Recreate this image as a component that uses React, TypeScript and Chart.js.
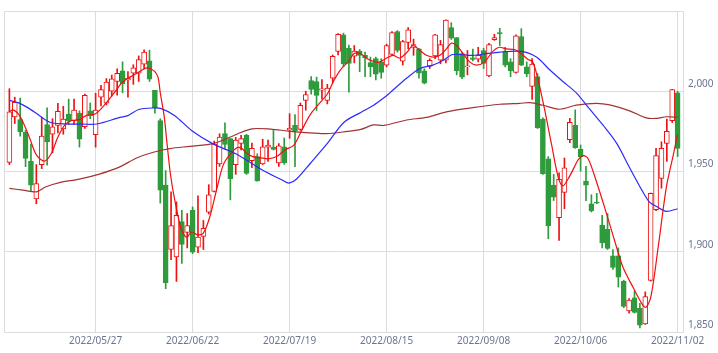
import { useEffect, useRef } from 'react';
import { Chart, registerables } from 'chart.js';
Chart.register(...registerables);

const tickIndex = [16, 34, 52, 70, 88, 106, 124];
const tickLabels = ['2022/05/27', '2022/06/22', '2022/07/19', '2022/08/15', '2022/09/08', '2022/10/06', '2022/11/02'];

const opens = [
  1955.7, 1984.0, 1982.3, 1974.4, 1956.3, 1932.9, 1954.3, 1979.3, 1973.2, 1978.7,
  1976.6, 1985.8, 1981.7, 1986.4, 1977.9, 1987.8, 1973.0, 1996.3, 1992.5, 2000.0,
  2006.1, 2012.8, 2007.1, 2011.2, 2011.3, 2016.9, 2018.9, 2000.6, 1981.7, 1941.5,
  1901.4, 1896.8, 1918.8, 1912.0, 1925.8, 1902.9, 1909.6, 1924.6, 1937.6, 1954.7,
  1973.6, 1970.5, 1954.3, 1967.5, 1972.6, 1956.7, 1959.3, 1954.7, 1965.1, 1965.1,
  1955.3, 1965.4, 1975.9, 1978.7, 1976.2, 1994.3, 2006.7, 2006.1, 2000.6, 1994.3,
  2008.1, 2024.8, 2035.2, 2026.8, 2021.8, 2025.0, 2022.4, 2017.9, 2020.3, 2018.3,
  2016.3, 2023.0, 2037.2, 2018.7, 2030.5, 2027.3, 2026.4, 2012.8, 2015.7, 2022.0,
  2019.3, 2019.3, 2039.6, 2033.5, 2023.4, 2015.1, 2020.9, 2020.0, 2025.4, 2009.6,
  2032.1, 2036.6, 2025.0, 2018.3, 2011.8, 2034.1, 2015.2, 2003.0, 2009.1, 1982.7,
  1957.9, 1941.5, 1921.2, 1937.0, 1969.9, 1978.7, 1964.0, 1944.1, 1929.9, 1930.9,
  1916.6, 1914.0, 1897.4, 1897.4, 1881.5, 1863.2, 1871.3, 1864.8, 1855.1, 1882.1,
  1926.2, 1945.7, 1967.5, 1981.7, 1999.0,
];
const highs = [
  2001.6, 1996.3, 1995.7, 1975.6, 1967.1, 1954.3, 1983.7, 1989.6, 1982.9, 1992.4,
  1990.6, 1995.1, 1995.1, 1987.8, 1998.2, 1992.7, 1998.8, 2003.7, 2007.9, 2010.1,
  2014.0, 2018.3, 2012.2, 2016.5, 2022.0, 2025.8, 2025.6, 2000.6, 1982.9, 1950.6,
  1937.4, 1931.1, 1925.8, 1923.8, 1927.9, 1934.9, 1919.5, 1941.8, 1968.9, 1973.5,
  1980.3, 1970.7, 1971.3, 1972.6, 1973.2, 1967.7, 1961.0, 1970.1, 1969.5, 1975.6,
  1967.4, 1970.9, 1986.0, 1985.4, 1992.7, 2000.0, 2009.1, 2008.8, 2007.3, 2004.3,
  2022.6, 2036.0, 2036.2, 2028.7, 2028.5, 2026.0, 2024.4, 2021.3, 2021.3, 2020.3,
  2029.3, 2037.2, 2037.8, 2031.7, 2039.6, 2032.5, 2026.8, 2014.0, 2020.3, 2035.5,
  2031.7, 2044.5, 2042.7, 2033.5, 2024.4, 2025.4, 2026.2, 2027.4, 2026.8, 2029.9,
  2035.5, 2039.2, 2027.4, 2020.3, 2035.1, 2039.0, 2018.3, 2020.3, 2011.0, 1983.5,
  1959.3, 1948.2, 1949.2, 1958.4, 1983.1, 1988.4, 1966.5, 1953.2, 1935.5, 1936.4,
  1922.7, 1923.8, 1901.4, 1902.4, 1882.3, 1870.9, 1875.4, 1867.9, 1875.0, 1936.6,
  1964.4, 1968.5, 1982.7, 2001.2, 2000.0,
];
const lows = [
  1954.3, 1979.9, 1972.0, 1953.0, 1938.0, 1929.9, 1951.8, 1954.0, 1961.6, 1974.1,
  1973.2, 1979.3, 1979.3, 1965.2, 1976.8, 1982.9, 1965.2, 1990.9, 1991.5, 1997.0,
  1997.6, 1999.0, 1996.3, 2004.3, 2006.1, 2014.0, 2006.1, 1986.4, 1930.3, 1877.0,
  1895.1, 1881.5, 1892.7, 1902.4, 1898.8, 1899.4, 1901.4, 1923.5, 1937.2, 1953.2,
  1964.0, 1932.3, 1948.2, 1963.4, 1948.2, 1952.4, 1943.9, 1954.3, 1956.3, 1963.4,
  1953.2, 1954.5, 1970.7, 1953.0, 1975.6, 1988.2, 1998.2, 1988.0, 1995.1, 1992.1,
  2005.5, 2022.6, 2015.2, 1999.4, 2017.7, 2012.2, 2009.1, 2009.1, 2007.1, 2008.1,
  2015.2, 2022.4, 2024.4, 2016.3, 2026.4, 2022.4, 2008.1, 2004.6, 2014.2, 2020.3,
  2017.1, 2017.7, 2032.3, 2010.2, 2007.9, 2010.2, 2018.9, 2018.3, 2014.2, 2009.1,
  2031.7, 2028.5, 2015.2, 2009.1, 2011.2, 2015.9, 2009.1, 1994.9, 1976.8, 1948.2,
  1908.1, 1931.9, 1907.1, 1926.8, 1967.9, 1964.4, 1950.2, 1931.9, 1924.8, 1929.9,
  1902.4, 1901.4, 1889.0, 1878.0, 1865.2, 1861.8, 1861.8, 1852.6, 1854.7, 1881.7,
  1925.6, 1939.6, 1956.3, 1980.5, 1959.3,
];
const closes = [
  1987.2, 1993.1, 1974.6, 1958.1, 1941.5, 1942.5, 1972.0, 1968.5, 1977.9, 1987.5,
  1982.7, 1981.7, 1988.2, 1970.1, 1997.4, 1984.8, 1988.2, 2001.0, 2005.7, 2007.7,
  2011.2, 2004.7, 2008.1, 2014.6, 2019.8, 2024.4, 2007.5, 1989.8, 1938.4, 1880.7,
  1916.3, 1922.7, 1904.6, 1916.3, 1899.8, 1909.1, 1914.6, 1935.5, 1967.1, 1971.5,
  1966.9, 1945.5, 1969.5, 1970.5, 1948.8, 1964.4, 1944.1, 1965.4, 1966.5, 1963.8,
  1966.0, 1955.3, 1977.0, 1975.2, 1991.3, 1998.0, 2001.2, 1997.4, 2001.5, 2002.0,
  2021.8, 2035.5, 2017.1, 2017.3, 2025.0, 2022.4, 2020.9, 2015.2, 2010.6, 2011.8,
  2028.5, 2036.6, 2025.4, 2030.9, 2038.2, 2029.1, 2011.2, 2005.1, 2019.3, 2035.2,
  2029.1, 2044.3, 2033.1, 2012.8, 2008.7, 2015.9, 2019.9, 2022.4, 2017.3, 2029.1,
  2033.5, 2035.8, 2016.3, 2012.6, 2034.6, 2016.3, 2010.8, 2016.9, 1977.3, 1948.6,
  1916.3, 1934.0, 1945.1, 1952.3, 1980.7, 1964.8, 1959.3, 1941.5, 1925.4, 1930.3,
  1905.5, 1902.0, 1890.2, 1884.1, 1865.9, 1869.9, 1862.2, 1854.3, 1872.0, 1936.4,
  1959.9, 1964.4, 1975.0, 2001.0, 1964.4,
];

// Short moving average (red): positions in candle index units
const maShortX = [0, 0.7, 1.8, 2.8, 3.8, 5, 6.5, 7.8, 9, 10.4, 11.5, 13.1, 14.3, 16, 18, 19.9, 20.8, 21.7, 23.4, 24.8, 25.5, 26.1, 27, 27.6, 28, 28.7, 29.3, 29.9, 30.7, 31.9, 32.9, 33.8, 35, 36, 37.2, 38.4, 39.7, 40.9, 42.2, 43.1, 44, 45.2, 46.5, 48, 49.6, 51.1, 52.8, 54.3, 55.8, 57.4, 59, 60.2, 61.5, 63, 63.9, 65.2, 66.4, 68.5, 70, 71.2, 72.4, 73.7, 74.9, 76.2, 77.4, 78.6, 79.9, 81.1, 82, 83, 84.2, 85.4, 86.7, 88.2, 89.7, 90.9, 92.2, 93.7, 95, 96.2, 97.1, 97.9, 99.2, 100.6, 101.8, 102.7, 103.7, 104.9, 105.5, 106.5, 107.4, 108.9, 110.8, 112.7, 113.9, 115.7, 117.6, 118.2, 119.1, 120.4, 121.9, 123.2, 124];
const maShortY = [1987.2, 1988.4, 1985.3, 1978.7, 1970.5, 1960.4, 1956.5, 1961.4, 1971.5, 1979.5, 1981.7, 1982.5, 1985.0, 1986.0, 1992.9, 2001.0, 2005.1, 2007.5, 2010.7, 2013.6, 2014.6, 2014.2, 2012.2, 2008.5, 1999.0, 1985.0, 1966.0, 1948.0, 1932.0, 1914.0, 1909.0, 1912.3, 1910.5, 1911.6, 1921.8, 1938.0, 1954.3, 1960.4, 1964.8, 1964.4, 1961.4, 1959.3, 1958.7, 1957.9, 1959.3, 1963.4, 1966.5, 1976.0, 1985.3, 1992.0, 1998.3, 2006.6, 2013.7, 2018.8, 2023.4, 2023.4, 2020.3, 2018.0, 2020.7, 2022.4, 2020.7, 2024.0, 2028.5, 2025.4, 2022.4, 2021.3, 2022.4, 2026.4, 2029.9, 2028.5, 2023.4, 2018.3, 2016.3, 2018.3, 2024.8, 2027.4, 2026.4, 2026.0, 2023.4, 2020.0, 2018.3, 2010.0, 1990.5, 1967.0, 1947.0, 1941.0, 1945.5, 1953.2, 1957.1, 1959.9, 1957.9, 1944.1, 1923.8, 1902.5, 1890.0, 1878.0, 1866.4, 1865.5, 1873.0, 1903.0, 1940.0, 1960.4, 1973.0];

// Middle moving average (blue)
const maMidX = [0, 1.6, 3.4, 5.6, 7.5, 10, 13.6, 16.2, 20.5, 22, 24, 26.7, 28.2, 30.7, 33.8, 37.8, 42.2, 47.1, 50.7, 51.9, 53.3, 55.9, 59, 62.1, 65.2, 67.6, 69.5, 70.6, 73.7, 76.2, 78.6, 80.5, 82.3, 86, 88.5, 91, 95, 97.8, 100.3, 102.7, 105.2, 107.7, 110.2, 112.7, 115.1, 117.6, 118.8, 120.1, 121.9, 124];
const maMidY = [1994.3, 1992.9, 1989.8, 1984.8, 1980.7, 1979.7, 1979.5, 1979.6, 1983.7, 1984.8, 1988.6, 1989.6, 1989.2, 1984.8, 1975.6, 1967.2, 1960.7, 1950.6, 1944.5, 1942.8, 1945.3, 1955.3, 1967.5, 1980.7, 1986.8, 1991.3, 1995.9, 1999.0, 2008.1, 2014.2, 2016.3, 2019.3, 2022.9, 2022.4, 2023.4, 2024.4, 2024.8, 2021.3, 2013.2, 2006.1, 1999.0, 1988.8, 1978.7, 1967.5, 1952.3, 1937.0, 1930.9, 1928.2, 1925.2, 1926.8];

// Long moving average (brown)
const maLongX = [0, 2.5, 5, 6.8, 9.3, 13, 16.7, 20.5, 23.6, 26.7, 29.8, 33.5, 38, 42.3, 45, 48.5, 51.7, 55, 58.8, 62.7, 65.2, 67.5, 69.5, 73.7, 77.4, 81.1, 86, 91, 94.7, 96.6, 99, 102.1, 105.2, 108.9, 111.4, 115.1, 118.2, 120.1, 121.9, 124];
const maLongY = [1939.5, 1938.4, 1937.3, 1940.5, 1943.1, 1945.3, 1948.4, 1952.9, 1958.4, 1962.0, 1964.3, 1965.7, 1967.5, 1973.4, 1976.6, 1976.4, 1975.2, 1974.2, 1973.6, 1975.0, 1976.2, 1979.0, 1978.7, 1982.1, 1983.7, 1987.2, 1989.8, 1991.9, 1992.5, 1992.9, 1991.3, 1988.8, 1991.3, 1992.5, 1991.5, 1987.8, 1983.4, 1983.1, 1984.1, 1983.7];

const RED = '#ee1111';
const GREEN = '#2f9b3c';
const BLUE = '#2b2bff';
const BROWN = '#a33232';
const GRID = '#dcdcdc';
const TEXT = '#6b7590';
const FONT = { family: "'Noto Sans', 'Liberation Sans', sans-serif", size: 10 };

export default function App() {
  const ref = useRef<HTMLCanvasElement>(null);
  useEffect(() => {
    document.body.style.margin = '0';
    const idx = opens.map((_, i) => i);
    const up = idx.map((i) => closes[i] >= opens[i]);
    const chart = new Chart(ref.current as HTMLCanvasElement, {
      type: 'bar',
      data: {
        datasets: [
          {
            type: 'line',
            data: maShortX.map((x, k) => ({ x, y: maShortY[k] })),
            borderColor: RED,
            borderWidth: 1.2,
            pointRadius: 0,
            tension: 0.3,
            order: 0,
          } as any,
          {
            type: 'line',
            data: maMidX.map((x, k) => ({ x, y: maMidY[k] })),
            borderColor: BLUE,
            borderWidth: 1.2,
            pointRadius: 0,
            tension: 0.3,
            order: 0,
          } as any,
          {
            type: 'line',
            data: maLongX.map((x, k) => ({ x, y: maLongY[k] })),
            borderColor: BROWN,
            borderWidth: 1.2,
            pointRadius: 0,
            tension: 0.3,
            order: 0,
          } as any,
          {
            type: 'bar',
            data: idx.map((i) => ({ x: i, y: [opens[i], closes[i]] })),
            backgroundColor: up.map((u) => (u ? '#ffffff' : GREEN)),
            borderColor: up.map((u) => (u ? RED : GREEN)),
            borderWidth: 1,
            borderSkipped: false,
            barThickness: 5,
            minBarLength: 1,
            grouped: false,
            order: 1,
          } as any,
          {
            type: 'bar',
            data: idx.map((i) => ({ x: i, y: [lows[i], highs[i]] })),
            backgroundColor: up.map((u) => (u ? RED : GREEN)),
            borderWidth: 0,
            barThickness: 1,
            grouped: false,
            order: 2,
          } as any,
        ],
      },
      options: {
        responsive: true,
        maintainAspectRatio: false,
        animation: false,
        layout: { padding: { left: 4, top: 3, right: 0, bottom: 0 } },
        plugins: { legend: { display: false }, tooltip: { enabled: false } },
        scales: {
          x: {
            type: 'linear',
            min: -1,
            max: 125,
            offset: false,
            afterBuildTicks: (s: any) => {
              s.ticks = [-1, ...tickIndex, 125].map((v) => ({ value: v }));
            },
            afterFit: (s: any) => {
              s.height = 21;
            },
            ticks: {
              autoSkip: false,
              maxRotation: 0,
              padding: 3,
              color: TEXT,
              font: FONT,
              callback: (v: any) => {
                const k = tickIndex.indexOf(Number(v));
                return k >= 0 ? tickLabels[k] : '';
              },
            },
            grid: { color: GRID, drawTicks: false, offset: false },
            border: { color: GRID },
          },
          y: {
            position: 'right',
            min: 1850,
            max: 2050,
            beginAtZero: false,
            afterFit: (s: any) => {
              s.width = 35;
            },
            ticks: {
              stepSize: 50,
              padding: 5,
              labelOffset: -7,
              color: TEXT,
              font: FONT,
              callback: (v: any) => (Number(v) === 2050 ? '' : Number(v).toLocaleString('en-US')),
            },
            grid: { color: GRID, drawTicks: false },
            border: { color: GRID },
          },
        },
      } as any,
    });
    return () => chart.destroy();
  }, []);
  return (
    <div style={{ width: 718, height: 353, position: 'relative' }}>
      <canvas ref={ref} />
    </div>
  );
}
